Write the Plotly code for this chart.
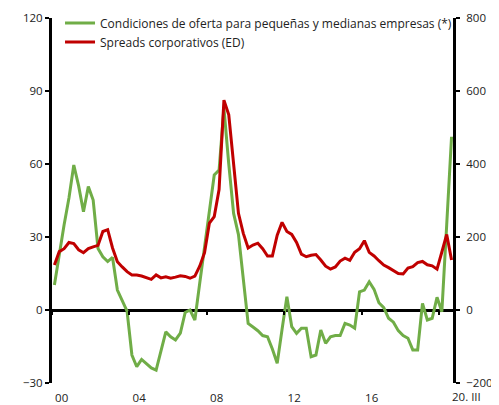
import plotly.graph_objects as go

# Quarterly data, 2000 Q1 .. 2020 Q3
start_year = 2000
n_quarters = 83
quarter_x = [start_year + (i + 0.5) / 4 for i in range(n_quarters)]

# Condiciones de oferta para pymes (left axis, %)
pymes = [10.3, 23, 35, 46, 59.6, 51, 40.4, 50.7, 45.2, 25.3,
         21.9, 19.9, 21.6, 8.2, 3.5, -0.5, -18.5, -23.3, -20.3, -22,
         -23.8, -24.7, -17, -9, -11, -12.3, -9.5, -1, 0, -4.1,
         11, 26, 41, 55.5, 57.5, 83, 60, 39.7, 31, 12,
         -5.5, -7, -8.5, -10.5, -11, -16, -21.9, -8, 5.5, -6.8,
         -9.6, -7.5, -7.5, -19.2, -18.5, -8.2, -13.7, -11, -10.5, -10.5,
         -5.5, -6.2, -7.5, 7.5, 8.2, 11.6, 8.5, 3, 1, -3.4,
         -5, -8.5, -10.5, -11.6, -16.4, -16.4, 2.7, -4.1, -3.4, 5.2,
         -0.7, 35, 71.2]

# Spreads corporativos (ED) (right axis, bp)
spreads = [123, 160, 168, 185, 182, 165, 157, 168, 173, 177,
           215, 220, 170, 132, 118, 105, 96, 96, 93, 89,
           84, 96, 88, 91, 87, 90, 94, 92, 87, 93,
           120, 157, 238, 256, 330, 575, 535, 400, 265, 210,
           170, 178, 183, 168, 148, 148, 205, 240, 215, 207,
           185, 153, 146, 150, 152, 137, 120, 112, 118, 134,
           142, 136, 158, 168, 190, 158, 148, 135, 123, 116,
           108, 100, 99, 115, 119, 130, 133, 124, 121, 112,
           159, 207, 137]

tick_years = [2000, 2004, 2008, 2012, 2016]
tick_labels = ["00", "04", "08", "12", "16"]
last_label = "20. III"

left_ticks = [-30, 0, 30, 60, 90, 120]
right_ticks = [-200, 0, 200, 400, 600, 800]

GREEN = "#70AD47"
RED = "#C00000"
FONT = "Open Sans"
TXT = "#222"

fig = go.Figure()
fig.add_trace(go.Scatter(
    x=quarter_x, y=pymes, mode="lines", yaxis="y",
    line=dict(color=GREEN, width=3),
    name="Condiciones de oferta para pequeñas y medianas empresas (*)"))
fig.add_trace(go.Scatter(
    x=quarter_x, y=spreads, mode="lines", yaxis="y2",
    line=dict(color=RED, width=3),
    name="Spreads corporativos (ED)"))
# helper trace so the label axis is drawn
fig.add_trace(go.Scatter(x=[start_year], y=[None], xaxis="x2", yaxis="y",
                         showlegend=False, hoverinfo="skip"))

x_end = 2020.70
# page body has an 8px default margin: size the figure to fit the window
fig.update_layout(
    width=491, height=397,
    margin=dict(l=44, r=46, t=10, b=22, autoexpand=False),
    paper_bgcolor="white", plot_bgcolor="white",
    font=dict(family=FONT, size=11.5, color=TXT),
    showlegend=True,
    legend=dict(x=0.02, y=1.026, xanchor="left", yanchor="top",
                bgcolor="rgba(0,0,0,0)", font=dict(size=12, color=TXT),
                itemwidth=30, tracegroupgap=0),
    xaxis=dict(range=[2000, x_end], anchor="free", position=0.2,
               showline=False, showgrid=False, zeroline=False,
               tickvals=[2000, 2004, 2008, 2012, 2016, 2020],
               ticks="outside", ticklen=4, tickwidth=2, tickcolor="black",
               showticklabels=False),
    xaxis2=dict(range=[2000, x_end], overlaying="x", anchor="y",
                side="bottom", showline=False, showgrid=False, zeroline=False,
                tickvals=[y + 0.5 for y in tick_years], ticktext=tick_labels,
                ticks="", ticklabelstandoff=6,
                tickfont=dict(size=11.5, color=TXT)),
    yaxis=dict(range=[-30, 120], tickvals=left_ticks,
               showline=True, linecolor="black", linewidth=3,
               ticks="outside", ticklen=4, tickwidth=2, tickcolor="black",
               showgrid=False, zeroline=True, zerolinecolor="black",
               zerolinewidth=3, tickfont=dict(size=11.5, color=TXT)),
    yaxis2=dict(range=[-200, 800], tickvals=right_ticks, overlaying="y",
                side="right", showline=True, linecolor="black", linewidth=3,
                ticks="outside", ticklen=4, tickwidth=2, tickcolor="black",
                ticklabelstandoff=4,
                showgrid=False, zeroline=False,
                tickfont=dict(size=11.5, color=TXT)),
    annotations=[dict(x=x_end, y=0, xref="x", yref="paper",
                      xanchor="left", yanchor="top", yshift=-4, xshift=-3,
                      text=last_label, showarrow=False,
                      font=dict(size=11.5, color=TXT))],
)

fig.write_html("out.html")
